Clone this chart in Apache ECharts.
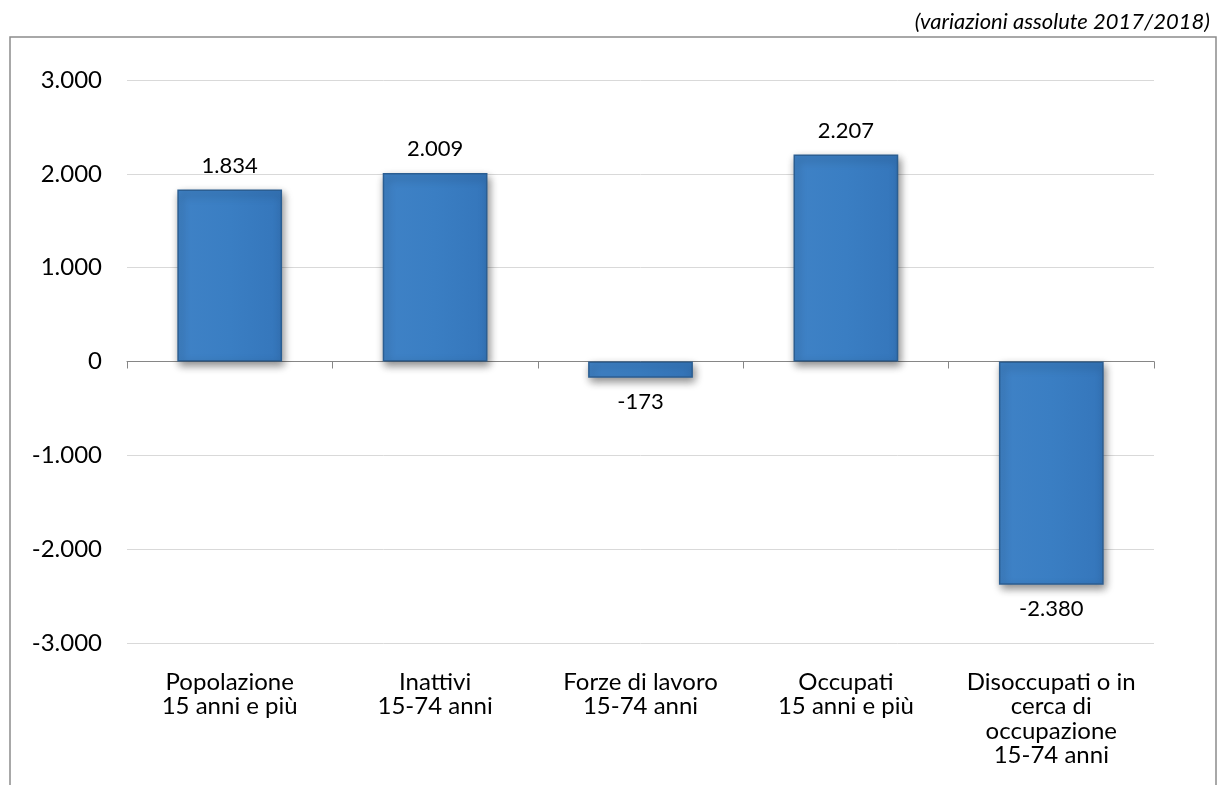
<!DOCTYPE html>
<html>
<head>
<meta charset="utf-8">
<script src="https://cdn.jsdelivr.net/npm/echarts@6/dist/echarts.min.js"></script>
<style>
  html, body { margin: 0; padding: 0; background: #fff; }
  #chart { width: 1224px; height: 785px; }
</style>
</head>
<body>
<div id="chart"></div>
<script>
const categories = [
  'Popolazione\n15 anni e più',
  'Inattivi\n15-74 anni',
  'Forze di lavoro\n15-74 anni',
  'Occupati\n15 anni e più',
  'Disoccupati o in\ncerca di\noccupazione\n15-74 anni'
];
const values = [1834, 2009, -173, 2207, -2380];
const subtitle = '(variazioni assolute 2017/2018)';

const FONT = 'Lato, "Noto Sans", sans-serif';
const fmt = v => {
  const s = Math.abs(v).toString().replace(/\B(?=(\d{3})+(?!\d))/g, '.');
  return (v < 0 ? '-' : '') + s;
};

const chart = echarts.init(document.getElementById('chart'));
chart.setOption({
  animation: false,
  textStyle: { fontFamily: FONT, color: '#000' },
  title: {
    text: subtitle,
    right: 9,
    top: 6,
    textStyle: { fontFamily: FONT, fontStyle: 'italic', fontWeight: 'normal', fontSize: 22, color: '#000' }
  },
  graphic: [{
    type: 'rect',
    shape: { x: 10, y: 37, width: 1206, height: 780 },
    style: { fill: 'none', stroke: '#8c8c8c', lineWidth: 1.5 },
    silent: true
  }],
  grid: { left: 127, right: 70, top: 80, bottom: 142 },
  xAxis: [{
    type: 'category',
    data: categories,
    position: 'bottom',
    axisLine: { show: false, onZero: false },
    axisTick: { show: false },
    axisLabel: { fontSize: 24, lineHeight: 24.5, margin: 27, color: '#000', fontFamily: FONT, interval: 0 }
  }, {
    type: 'category',
    data: categories,
    position: 'bottom',
    axisLine: { show: true, onZero: true, onZeroAxisIndex: 0, lineStyle: { color: '#868686', width: 1 } },
    axisTick: { show: true, length: 7, lineStyle: { color: '#868686' } },
    axisLabel: { show: false }
  }],
  yAxis: {
    type: 'value',
    min: -3000,
    max: 3000,
    interval: 1000,
    axisLine: { show: false },
    axisTick: { show: false },
    splitLine: { lineStyle: { color: '#d9d9d9', width: 1 } },
    axisLabel: { fontSize: 24, margin: 25, color: '#000', fontFamily: FONT, formatter: fmt }
  },
  series: [{
    type: 'bar',
    xAxisIndex: 0,
    data: values,
    barWidth: '51%',
    itemStyle: {
      color: {
        type: 'linear', x: 0, y: 0, x2: 1, y2: 0,
        colorStops: [
          { offset: 0, color: '#3f82c6' },
          { offset: 0.5, color: '#3a7ec3' },
          { offset: 1, color: '#3576bb' }
        ]
      },
      borderColor: '#2b5e92',
      borderWidth: 1.5,
      shadowBlur: 8,
      shadowColor: 'rgba(0,0,0,0.45)',
      shadowOffsetX: 2,
      shadowOffsetY: 4
    },
    label: {
      show: true,
      position: 'outside',
      distance: 13,
      fontSize: 22,
      color: '#000',
      fontFamily: FONT,
      formatter: p => fmt(p.value)
    }
  }]
});
</script>
</body>
</html>
